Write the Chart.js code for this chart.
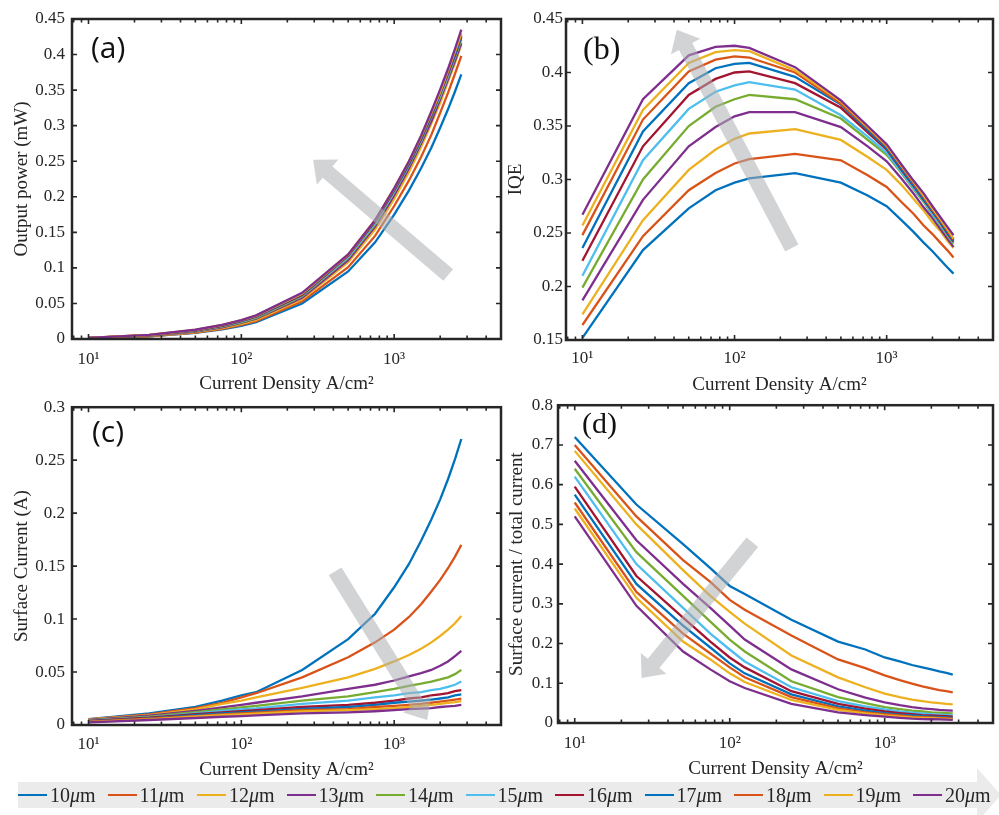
<!DOCTYPE html>
<html>
<head>
<meta charset="utf-8">
<script src="https://cdn.jsdelivr.net/npm/chart.js@4.4.0/dist/chart.umd.min.js"></script>
<style>
  body { margin: 0; background: #fff; }
  #wrap { position: relative; width: 999px; height: 815px; overflow: hidden; }
  canvas, svg { position: absolute; }
  #legend { position: absolute; left: 18px; top: 782px; height: 26px; display: flex; align-items: center;
            font-family: "Liberation Serif", serif; font-size: 20px; color: #262626; }
  .item { width: 89.5px; display: flex; align-items: center; white-space: nowrap; }
  .sw { display: inline-block; width: 29px; height: 2.5px; margin-right: 3px; }
</style>
</head>
<body>
<div id="wrap">
  <svg width="999" height="815" style="left:0;top:0">
    <polygon points="18,782 977,782 977,768 1001,795 977,822 977,808 18,808" fill="#ebebeb"/>
  </svg>
  <canvas id="pa" width="505" height="400" style="left:0;top:0"></canvas>
  <canvas id="pb" width="499" height="400" style="left:500px;top:0"></canvas>
  <canvas id="pc" width="505" height="400" style="left:0;top:390px"></canvas>
  <canvas id="pd" width="499" height="400" style="left:500px;top:390px"></canvas>
  <div id="legend"></div>
</div>
<script>
// current density points (A/cm^2), shared by all four panels
const currentDensity = [10, 25, 50, 75, 100, 125, 250, 500, 750, 1000, 1250, 1500, 1750, 2000, 2250, 2500, 2750];
const widthLabels = ["10", "11", "12", "13", "14", "15", "16", "17", "18", "19", "20"];
const lineColors = ["#0072BD", "#D95319", "#EDB120", "#7E2F8E", "#77AC30", "#4DBEEE", "#A2142F",
                    "#0072BD", "#D95319", "#EDB120", "#7E2F8E"];

const xTickValues = [10, 100, 1000];
const yTicksPower = [0, 0.05, 0.1, 0.15, 0.2, 0.25, 0.3, 0.35, 0.4, 0.45];
const yTicksIqe = [0.15, 0.2, 0.25, 0.3, 0.35, 0.4, 0.45];
const yTicksSurface = [0, 0.05, 0.1, 0.15, 0.2, 0.25, 0.3];
const yTicksRatio = [0, 0.1, 0.2, 0.3, 0.4, 0.5, 0.6, 0.7, 0.8];

// (a) output power, mW — one row per mesa width 10..20 um
const powerMW = [
  [0.0010, 0.0037, 0.0086, 0.0136, 0.0186, 0.0236, 0.050, 0.095, 0.136, 0.175, 0.209, 0.240, 0.269, 0.297, 0.323, 0.348, 0.372],
  [0.0010, 0.0039, 0.0091, 0.0144, 0.0198, 0.0250, 0.053, 0.101, 0.145, 0.187, 0.223, 0.256, 0.287, 0.318, 0.346, 0.373, 0.398],
  [0.0011, 0.0041, 0.0097, 0.0154, 0.0212, 0.0269, 0.056, 0.108, 0.154, 0.197, 0.235, 0.270, 0.303, 0.332, 0.362, 0.388, 0.414],
  [0.0012, 0.0044, 0.0104, 0.0164, 0.0225, 0.0285, 0.058, 0.111, 0.158, 0.202, 0.240, 0.275, 0.306, 0.337, 0.365, 0.391, 0.416],
  [0.0012, 0.0047, 0.0110, 0.0173, 0.0235, 0.0297, 0.060, 0.114, 0.161, 0.206, 0.244, 0.278, 0.312, 0.341, 0.369, 0.396, 0.421],
  [0.0013, 0.0050, 0.0115, 0.0180, 0.0243, 0.0307, 0.061, 0.115, 0.163, 0.207, 0.245, 0.279, 0.313, 0.342, 0.370, 0.397, 0.423],
  [0.0014, 0.0052, 0.0119, 0.0185, 0.0251, 0.0314, 0.062, 0.117, 0.165, 0.209, 0.246, 0.281, 0.314, 0.345, 0.373, 0.399, 0.425],
  [0.0015, 0.0054, 0.0122, 0.0190, 0.0256, 0.0321, 0.063, 0.118, 0.166, 0.210, 0.247, 0.282, 0.315, 0.346, 0.375, 0.400, 0.426],
  [0.0016, 0.0056, 0.0126, 0.0194, 0.0260, 0.0325, 0.064, 0.118, 0.167, 0.211, 0.249, 0.284, 0.317, 0.347, 0.376, 0.404, 0.428],
  [0.0016, 0.0057, 0.0128, 0.0197, 0.0264, 0.0329, 0.064, 0.119, 0.167, 0.212, 0.250, 0.285, 0.318, 0.348, 0.378, 0.405, 0.430],
  [0.0017, 0.0059, 0.0130, 0.0199, 0.0266, 0.0332, 0.065, 0.119, 0.167, 0.212, 0.250, 0.286, 0.320, 0.351, 0.380, 0.408, 0.435]
];

// (b) IQE
const iqe = [
  [0.152, 0.234, 0.273, 0.290, 0.297, 0.301, 0.306, 0.297, 0.285, 0.275, 0.262, 0.251, 0.241, 0.233, 0.225, 0.218, 0.212],
  [0.164, 0.247, 0.290, 0.306, 0.315, 0.319, 0.324, 0.318, 0.304, 0.293, 0.279, 0.268, 0.257, 0.249, 0.241, 0.234, 0.227],
  [0.174, 0.262, 0.309, 0.328, 0.338, 0.343, 0.347, 0.337, 0.321, 0.309, 0.295, 0.282, 0.271, 0.260, 0.252, 0.243, 0.236],
  [0.187, 0.281, 0.331, 0.349, 0.359, 0.363, 0.363, 0.349, 0.331, 0.317, 0.301, 0.287, 0.274, 0.264, 0.254, 0.245, 0.237],
  [0.199, 0.300, 0.350, 0.368, 0.375, 0.379, 0.375, 0.357, 0.337, 0.323, 0.306, 0.291, 0.279, 0.267, 0.257, 0.248, 0.240],
  [0.210, 0.318, 0.366, 0.382, 0.388, 0.391, 0.384, 0.360, 0.340, 0.325, 0.307, 0.292, 0.280, 0.268, 0.258, 0.249, 0.241],
  [0.224, 0.331, 0.379, 0.394, 0.400, 0.401, 0.390, 0.367, 0.344, 0.328, 0.309, 0.294, 0.281, 0.270, 0.260, 0.250, 0.242],
  [0.236, 0.345, 0.390, 0.404, 0.408, 0.409, 0.396, 0.370, 0.346, 0.329, 0.310, 0.295, 0.282, 0.271, 0.261, 0.251, 0.243],
  [0.248, 0.356, 0.401, 0.412, 0.415, 0.414, 0.400, 0.371, 0.348, 0.331, 0.312, 0.297, 0.284, 0.272, 0.262, 0.253, 0.244],
  [0.257, 0.365, 0.409, 0.419, 0.421, 0.420, 0.402, 0.373, 0.349, 0.332, 0.313, 0.298, 0.285, 0.273, 0.263, 0.254, 0.245],
  [0.267, 0.375, 0.416, 0.424, 0.425, 0.423, 0.405, 0.374, 0.350, 0.333, 0.314, 0.299, 0.287, 0.275, 0.265, 0.256, 0.248]
];

// (c) surface current, A
const surfaceCurrentA = [
  [0.0056, 0.0110, 0.0170, 0.0230, 0.0280, 0.0310, 0.0520, 0.081, 0.105, 0.130, 0.152, 0.174, 0.194, 0.213, 0.232, 0.251, 0.270],
  [0.0053, 0.0100, 0.0160, 0.0210, 0.0260, 0.0300, 0.0450, 0.064, 0.078, 0.090, 0.102, 0.114, 0.126, 0.137, 0.148, 0.159, 0.170],
  [0.0053, 0.0094, 0.0147, 0.0200, 0.0230, 0.0260, 0.0350, 0.045, 0.053, 0.060, 0.066, 0.072, 0.078, 0.084, 0.090, 0.096, 0.103],
  [0.0047, 0.0088, 0.0134, 0.0166, 0.0190, 0.0210, 0.0270, 0.034, 0.038, 0.042, 0.046, 0.049, 0.052, 0.056, 0.060, 0.065, 0.070],
  [0.0044, 0.0078, 0.0122, 0.0147, 0.0166, 0.0180, 0.0230, 0.027, 0.031, 0.034, 0.037, 0.039, 0.041, 0.043, 0.045, 0.048, 0.052],
  [0.0040, 0.0072, 0.0110, 0.0134, 0.0147, 0.0156, 0.0200, 0.023, 0.026, 0.028, 0.030, 0.031, 0.033, 0.034, 0.036, 0.038, 0.041],
  [0.0038, 0.0069, 0.0103, 0.0120, 0.0130, 0.0140, 0.0170, 0.019, 0.021, 0.023, 0.025, 0.026, 0.028, 0.029, 0.030, 0.032, 0.033],
  [0.0034, 0.0063, 0.0094, 0.0110, 0.0119, 0.0125, 0.0153, 0.017, 0.019, 0.021, 0.022, 0.023, 0.024, 0.025, 0.026, 0.028, 0.029],
  [0.0031, 0.0060, 0.0084, 0.0100, 0.0110, 0.0116, 0.0140, 0.015, 0.017, 0.018, 0.019, 0.020, 0.021, 0.022, 0.023, 0.024, 0.025],
  [0.0028, 0.0053, 0.0078, 0.0094, 0.0100, 0.0106, 0.0128, 0.014, 0.015, 0.016, 0.017, 0.018, 0.019, 0.020, 0.021, 0.0215, 0.0225],
  [0.0025, 0.0047, 0.0066, 0.0078, 0.0084, 0.0090, 0.0110, 0.012, 0.013, 0.014, 0.015, 0.0155, 0.016, 0.017, 0.0175, 0.018, 0.019]
];

// (d) surface current / total current
const surfaceRatio = [
  [0.720, 0.550, 0.450, 0.390, 0.345, 0.325, 0.260, 0.205, 0.185, 0.165, 0.155, 0.146, 0.140, 0.135, 0.130, 0.126, 0.122],
  [0.700, 0.520, 0.410, 0.355, 0.310, 0.285, 0.220, 0.160, 0.138, 0.120, 0.108, 0.099, 0.092, 0.087, 0.083, 0.080, 0.077],
  [0.685, 0.500, 0.385, 0.320, 0.280, 0.250, 0.170, 0.115, 0.090, 0.074, 0.065, 0.059, 0.055, 0.052, 0.050, 0.048, 0.047],
  [0.660, 0.460, 0.350, 0.290, 0.245, 0.210, 0.135, 0.085, 0.064, 0.052, 0.045, 0.040, 0.037, 0.035, 0.033, 0.032, 0.031],
  [0.640, 0.430, 0.320, 0.255, 0.210, 0.180, 0.105, 0.065, 0.050, 0.040, 0.035, 0.031, 0.029, 0.027, 0.026, 0.025, 0.024],
  [0.620, 0.400, 0.290, 0.225, 0.185, 0.155, 0.090, 0.055, 0.042, 0.034, 0.029, 0.026, 0.024, 0.022, 0.021, 0.020, 0.019],
  [0.595, 0.370, 0.265, 0.205, 0.165, 0.140, 0.080, 0.048, 0.036, 0.029, 0.025, 0.022, 0.020, 0.019, 0.018, 0.017, 0.016],
  [0.575, 0.350, 0.245, 0.190, 0.150, 0.125, 0.072, 0.042, 0.031, 0.025, 0.021, 0.019, 0.017, 0.016, 0.015, 0.014, 0.013],
  [0.555, 0.330, 0.225, 0.175, 0.140, 0.115, 0.065, 0.037, 0.027, 0.022, 0.019, 0.016, 0.015, 0.014, 0.013, 0.012, 0.011],
  [0.540, 0.315, 0.205, 0.160, 0.125, 0.103, 0.058, 0.033, 0.024, 0.019, 0.016, 0.014, 0.013, 0.012, 0.011, 0.0105, 0.010],
  [0.520, 0.295, 0.180, 0.135, 0.105, 0.088, 0.048, 0.027, 0.020, 0.016, 0.013, 0.011, 0.010, 0.0095, 0.009, 0.0085, 0.008]
];

const ink = "#262626";
const tickFont = { family: "Liberation Serif", size: 17 };
const titleFont = { family: "Liberation Serif", size: 19 };
const sup = ["⁰", "¹", "²", "³", "⁴"];

function drawArrow(ctx, x0, y0, x1, y1) {
  const sw = 15, hl = 19, hw = 33;
  const L = Math.hypot(x1 - x0, y1 - y0);
  const ux = (x1 - x0) / L, uy = (y1 - y0) / L, nx = -uy, ny = ux;
  const bx = x1 - ux * hl, by = y1 - uy * hl;
  ctx.beginPath();
  ctx.moveTo(x0 + nx * sw / 2, y0 + ny * sw / 2);
  ctx.lineTo(bx + nx * sw / 2, by + ny * sw / 2);
  ctx.lineTo(bx + nx * hw / 2, by + ny * hw / 2);
  ctx.lineTo(x1, y1);
  ctx.lineTo(bx - nx * hw / 2, by - ny * hw / 2);
  ctx.lineTo(bx - nx * sw / 2, by - ny * sw / 2);
  ctx.lineTo(x0 - nx * sw / 2, y0 - ny * sw / 2);
  ctx.closePath();
  ctx.fillStyle = "rgba(172,175,178,0.55)";
  ctx.fill();
}

// MATLAB-like box: gray arrow, inward ticks on all sides, frame, panel letter
const axesBox = {
  id: "axesBox",
  afterDatasetsDraw(chart, args, o) {
    const { ctx, chartArea: a, scales: { x, y } } = chart;
    ctx.save();
    if (o.arrow) {
      drawArrow(ctx, x.getPixelForValue(o.arrow[0]), y.getPixelForValue(o.arrow[1]),
                     x.getPixelForValue(o.arrow[2]), y.getPixelForValue(o.arrow[3]));
    }
    ctx.strokeStyle = ink;
    ctx.lineWidth = 1.6;
    ctx.beginPath();
    y.ticks.forEach(t => {
      const py = y.getPixelForValue(t.value);
      ctx.moveTo(a.left, py); ctx.lineTo(a.left + 5, py);
      ctx.moveTo(a.right, py); ctx.lineTo(a.right - 5, py);
    });
    for (let d = 1; d <= 1000; d *= 10) {
      for (let k = 1; k <= 9; k++) {
        const v = k * d;
        if (v < x.min || v > x.max) continue;
        const px = x.getPixelForValue(v), len = k === 1 ? 5 : 3.5;
        ctx.moveTo(px, a.bottom); ctx.lineTo(px, a.bottom - len);
        ctx.moveTo(px, a.top); ctx.lineTo(px, a.top + len);
      }
    }
    ctx.stroke();
    ctx.lineWidth = 2.5;
    ctx.strokeRect(a.left, a.top, a.right - a.left, a.bottom - a.top);
    ctx.fillStyle = "#111";
    ctx.font = o.labelFont;
    ctx.textBaseline = "alphabetic";
    ctx.fillText(o.label, a.left + o.labelX, a.top + o.labelY);
    ctx.restore();
  }
};

function makePanel(id, rows, yTicks, yTitle, box) {
  new Chart(document.getElementById(id), {
    type: "line",
    data: {
      datasets: rows.map((r, i) => ({
        label: widthLabels[i] + "μm",
        data: currentDensity.map((x, j) => ({ x: x, y: r[j] })),
        borderColor: lineColors[i],
        borderWidth: 2.3,
        pointRadius: 0,
        tension: 0,
        fill: false,
        order: rows.length - i
      }))
    },
    options: {
      responsive: false,
      animation: false,
      layout: { padding: box.pad },
      plugins: { legend: { display: false }, tooltip: { enabled: false }, axesBox: box.deco },
      scales: {
        x: {
          type: "logarithmic", min: 7.8, max: 5000,
          afterBuildTicks: s => { s.ticks = xTickValues.map(v => ({ value: v })); },
          afterFit: s => { s.height = box.xh; },
          grid: { display: false, drawTicks: false },
          border: { display: false },
          ticks: { font: tickFont, color: ink, padding: box.xtp, maxRotation: 0, autoSkip: false,
                   callback: v => "10" + sup[Math.round(Math.log10(v))] },
          title: { display: true, text: "Current Density A/cm²", font: titleFont, color: ink,
                   padding: { top: 0, bottom: box.xtitle } }
        },
        y: {
          min: yTicks[0], max: yTicks[yTicks.length - 1],
          afterBuildTicks: s => { s.ticks = yTicks.map(v => ({ value: v })); },
          afterFit: s => { s.width = box.yw; },
          grid: { display: false, drawTicks: false },
          border: { display: false },
          ticks: { font: tickFont, color: ink, padding: box.ytp, autoSkip: false, callback: v => String(v) },
          title: { display: true, text: yTitle, font: titleFont, color: ink,
                   padding: { top: box.ytitle, bottom: 0 } }
        }
      }
    },
    plugins: [axesBox]
  });
}

makePanel("pa", powerMW, yTicksPower, "Output power (mW)", {
  pad: { top: 19, right: 4, left: 0, bottom: 0 }, yw: 72, xh: 61, ytp: 7, xtp: 10, ytitle: 10.6, xtitle: 4.6,
  deco: { label: "(a)", labelFont: "30px 'Open Sans'", labelX: 19, labelY: 39, arrow: [2255, 0.09, 295, 0.252] }
});
makePanel("pb", iqe, yTicksIqe, "IQE", {
  pad: { top: 19, right: 6, left: 0, bottom: 0 }, yw: 66, xh: 60, ytp: 3, xtp: 8, ytitle: 4.6, xtitle: 4,
  deco: { label: "(b)", labelFont: "32px 'Liberation Serif'", labelX: 17, labelY: 40, arrow: [238, 0.236, 41.7, 0.44] }
});
makePanel("pc", surfaceCurrentA, yTicksSurface, "Surface Current (A)", {
  pad: { top: 15, right: 4, left: 0, bottom: 0 }, yw: 72, xh: 65, ytp: 7, xtp: 9, ytitle: 11.1, xtitle: 8.3,
  deco: { label: "(c)", labelFont: "30px 'Open Sans'", labelX: 20, labelY: 34.5, arrow: [411, 0.145, 1644, 0.0047] }
});
makePanel("pd", surfaceRatio, yTicksRatio, "Surface current / total current", {
  pad: { top: 14, right: 6, left: 0, bottom: 0 }, yw: 58, xh: 67, ytp: 5, xtp: 10, ytitle: 6.1, xtitle: 9.3,
  deco: { label: "(d)", labelFont: "30px 'Liberation Serif'", labelX: 24, labelY: 27.6, arrow: [140, 0.455, 27, 0.113] }
});

// shared legend strip
document.getElementById("legend").innerHTML = widthLabels.map((w, i) =>
  '<div class="item"><span class="sw" style="background:' + lineColors[i] + '"></span>' + w + '<i>μ</i>m</div>'
).join("");
</script>
</body>
</html>
